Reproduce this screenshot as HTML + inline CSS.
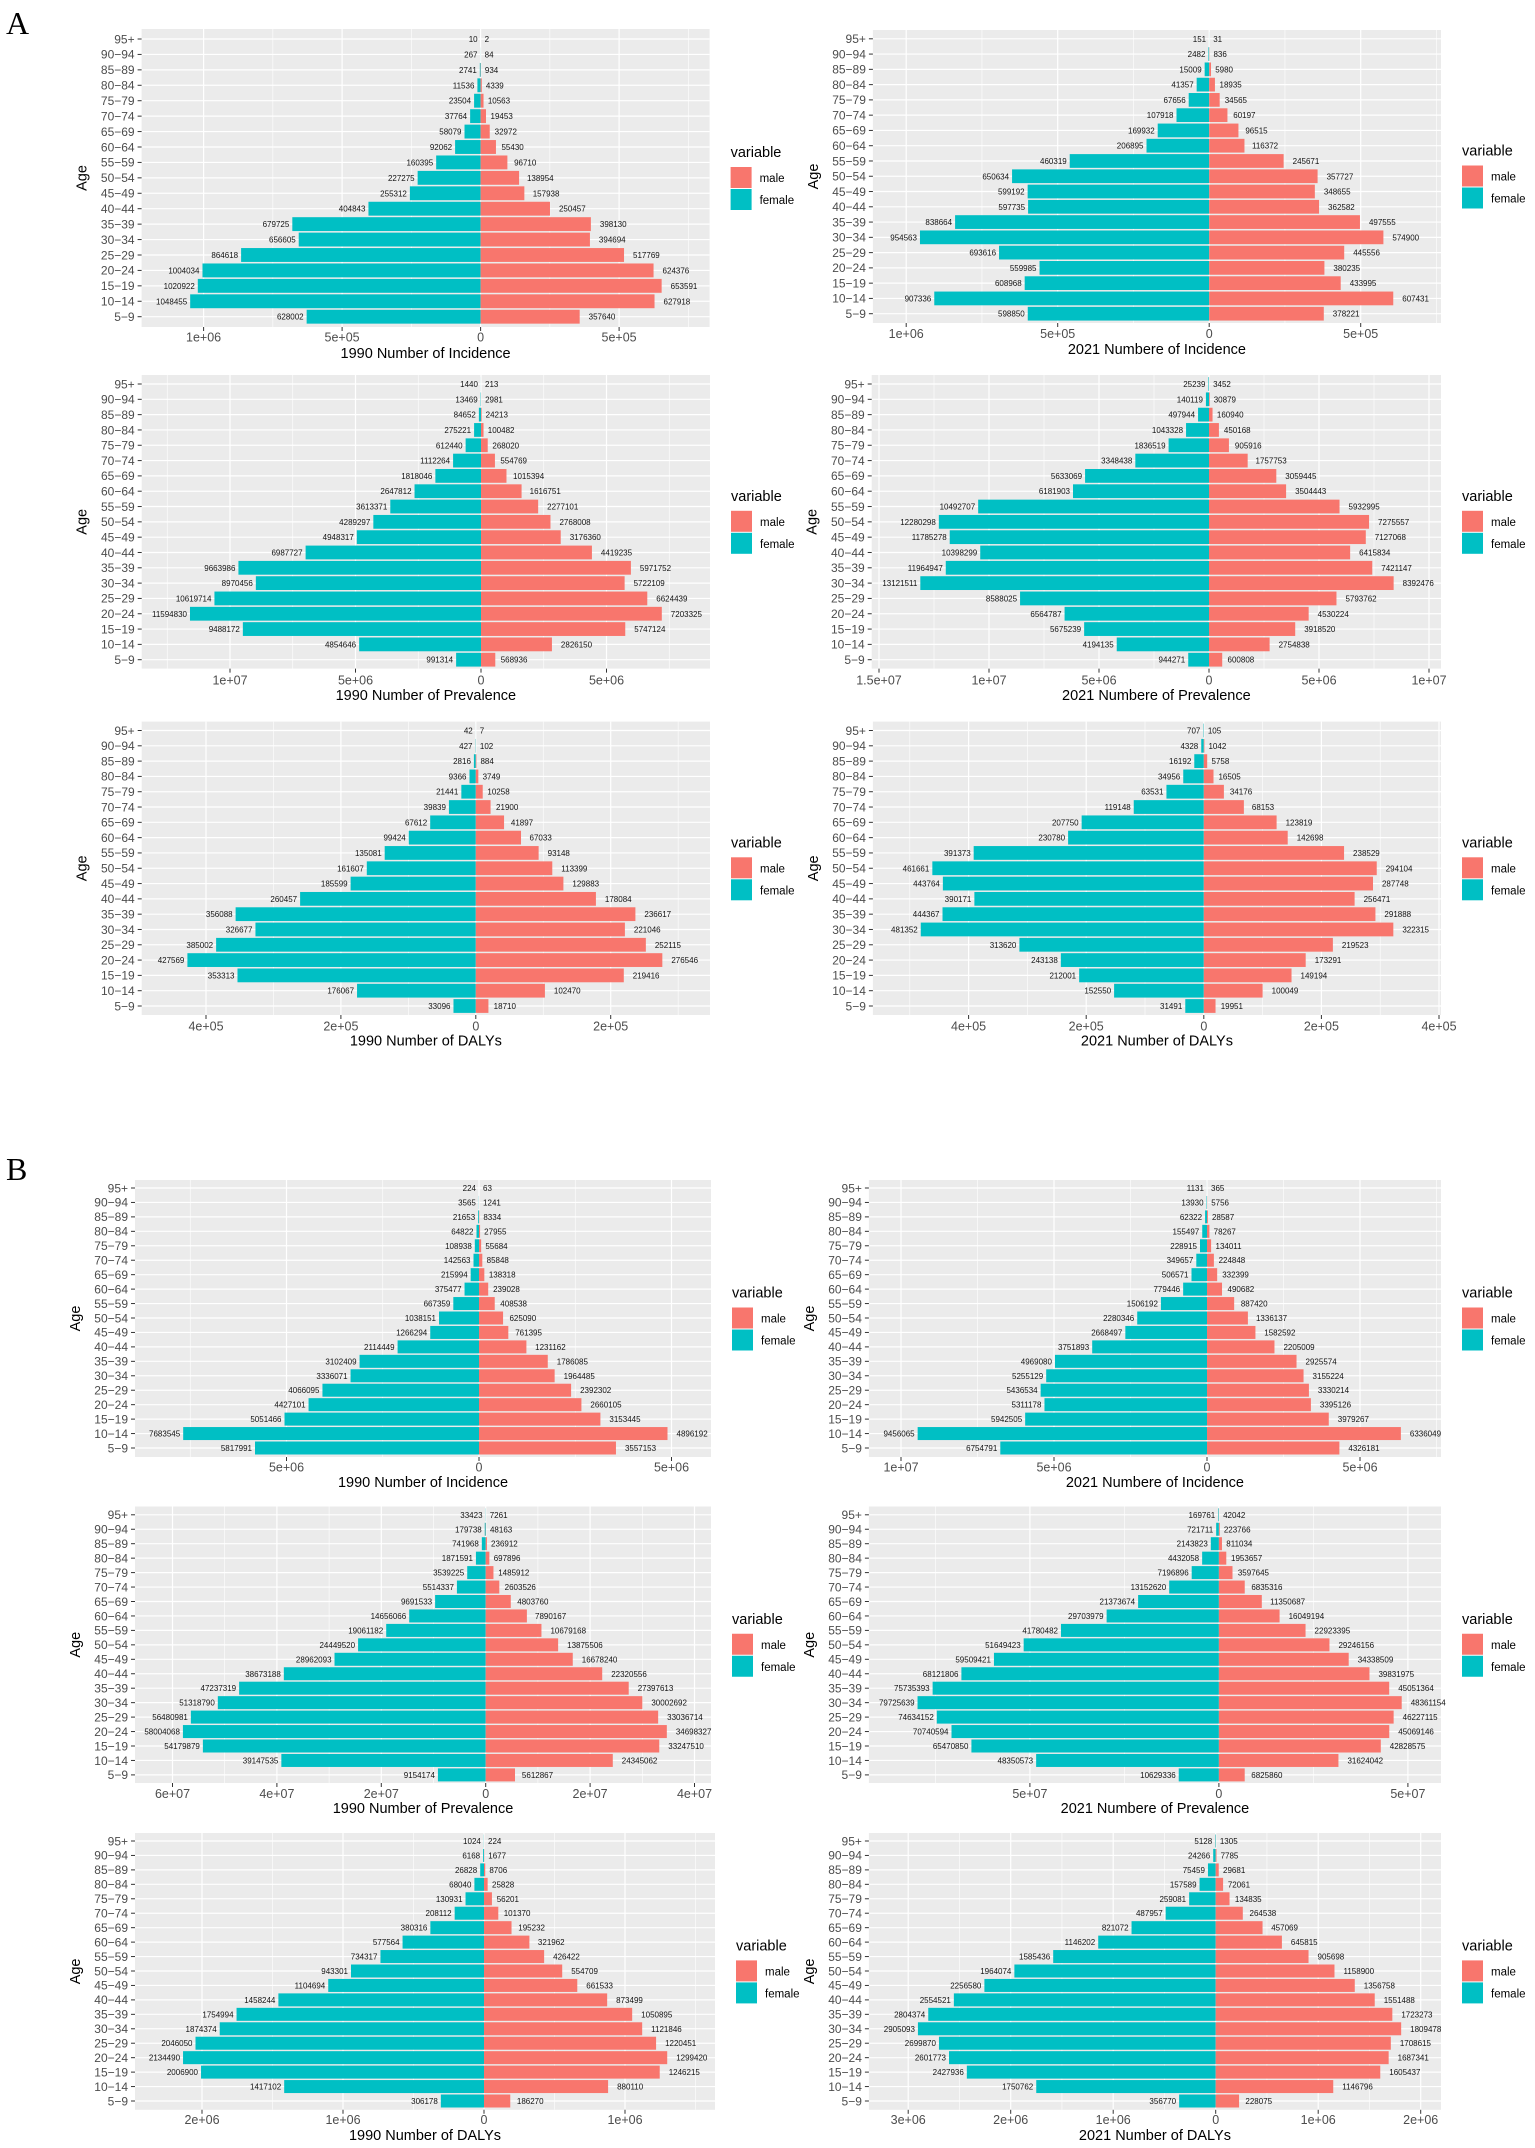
<!DOCTYPE html>
<html><head><meta charset="utf-8">
<style>
html,body{margin:0;padding:0;background:#fff;}
svg{display:block;font-family:"Liberation Sans",sans-serif;}
</style></head>
<body>
<svg id="s" xmlns="http://www.w3.org/2000/svg" width="1535" height="2148" viewBox="0 0 1535 2148">
<rect width="1535" height="2148" fill="#fff"/>
<text x="6" y="34" font-family="Liberation Serif, serif" font-size="32" fill="#000">A</text>
<text x="6" y="1180" font-family="Liberation Serif, serif" font-size="32" fill="#000">B</text>
</svg>
<script>
var ages=["95+","90\u221294","85\u221289","80\u221284","75\u221279","70\u221274","65\u221269","60\u221264","55\u221259","50\u221254","45\u221249","40\u221244","35\u221239","30\u221234","25\u221229","20\u221224","15\u221219","10\u221214","5\u22129"];
var P=[
{L:141.6,R:709.6,T:29,B:327,z:480.6,k:2.77e-4,r0:39,r18:316.7,ty:337,tt:353,st:5e5,title:"1990 Number of Incidence",
F:[10,267,2741,11536,23504,37764,58079,92062,160395,227275,255312,404843,679725,656605,864618,1004034,1020922,1048455,628002],
M:[2,84,934,4339,10563,19453,32972,55430,96710,138954,157938,250457,398130,394694,517769,624376,653591,627918,357640]},
{L:872.9,R:1441,T:30,B:323,z:1209.2,k:3.03e-4,r0:38.8,r18:313.7,ty:333.5,tt:349,st:5e5,title:"2021 Numbere of Incidence",
F:[151,2482,15009,41357,67656,107918,169932,206895,460319,650634,599192,597735,838664,954563,693616,559985,608968,907336,598850],
M:[31,836,5980,18935,34565,60197,96515,116372,245671,357727,348655,362582,497555,574900,445556,380235,433995,607431,378221]},
{L:141.7,R:710,T:375,B:668.6,z:481,k:2.51e-5,r0:384,r18:659.7,ty:680,tt:695,st:5e6,title:"1990 Number of Prevalence",
F:[1440,13469,84652,275221,612440,1112264,1818046,2647812,3613371,4289297,4948317,6987727,9663986,8970456,10619714,11594830,9488172,4854646,991314],
M:[213,2981,24213,100482,268020,554769,1015394,1616751,2277101,2768008,3176360,4419235,5971752,5722109,6624439,7203325,5747124,2826150,568936]},
{L:871.7,R:1441,T:375,B:668.6,z:1209,k:2.2e-5,r0:384,r18:659.7,ty:680,tt:695,st:5e6,title:"2021 Numbere of Prevalence",
F:[25239,140119,497944,1043328,1836519,3348438,5633069,6181903,10492707,12280298,11785278,10398299,11964947,13121511,8588025,6564787,5675239,4194135,944271],
M:[3452,30879,160940,450168,905916,1757753,3059445,3504443,5932995,7275557,7127068,6415834,7421147,8392476,5793762,4530224,3918520,2754838,600808]},
{L:141.7,R:710,T:721.6,B:1015,z:475.8,k:6.745e-4,r0:730.5,r18:1006,ty:1026,tt:1040.7,st:2e5,title:"1990 Number of DALYs",
F:[42,427,2816,9366,21441,39839,67612,99424,135081,161607,185599,260457,356088,326677,385002,427569,353313,176067,33096],
M:[7,102,884,3749,10258,21900,41897,67033,93148,113399,129883,178084,236617,221046,252115,276546,219416,102470,18710]},
{L:872.9,R:1441,T:721.6,B:1015,z:1203.8,k:5.88e-4,r0:730.5,r18:1006,ty:1026,tt:1040.7,st:2e5,title:"2021 Number of DALYs",
F:[707,4328,16192,34956,63531,119148,207750,230780,391373,461661,443764,390171,444367,481352,313620,243138,212001,152550,31491],
M:[105,1042,5758,16505,34176,68153,123819,142698,238529,294104,287748,256471,291888,322315,219523,173291,149194,100049,19951]},
{L:135,R:711,T:1180,B:1457,z:479,k:3.85e-5,r0:1188,r18:1448,ty:1467,tt:1482,st:5e6,title:"1990 Number of Incidence",
F:[224,3565,21653,64822,108938,142563,215994,375477,667359,1038151,1266294,2114449,3102409,3336071,4066095,4427101,5051466,7683545,5817991],
M:[63,1241,8334,27955,55684,85848,138318,239028,408538,625090,761395,1231162,1786085,1964485,2392302,2660105,3153445,4896192,3557153]},
{L:868.9,R:1441,T:1180,B:1457,z:1207,k:3.06e-5,r0:1188,r18:1448,ty:1467,tt:1482,st:5e6,title:"2021 Numbere of Incidence",
F:[1131,13930,62322,155497,228915,349657,506571,779446,1506192,2280346,2668497,3751893,4969080,5255129,5436534,5311178,5942505,9456065,6754791],
M:[365,5756,28587,78267,134011,224848,332399,490682,887420,1336137,1582592,2205009,2925574,3155224,3330214,3395126,3979267,6336049,4326181]},
{L:135,R:711,T:1506.5,B:1783,z:485.7,k:5.22e-6,r0:1514.8,r18:1774.9,ty:1793.7,tt:1807.9,st:2e7,title:"1990 Number of Prevalence",
F:[33423,179738,741968,1871591,3539225,5514337,9691533,14656066,19061182,24449520,28962093,38673188,47237319,51318790,56480981,58004068,54179879,39147535,9154174],
M:[7261,48163,236912,697896,1485912,2603526,4803760,7890167,10679168,13875506,16678240,22320556,27397613,30002692,33036714,34698327,33247510,24345062,5612867]},
{L:868.9,R:1441,T:1506.5,B:1783,z:1218.9,k:3.78e-6,r0:1514.8,r18:1774.9,ty:1793.7,tt:1807.9,st:5e7,title:"2021 Numbere of Prevalence",
F:[169761,721711,2143823,4432058,7196896,13152620,21373674,29703979,41780482,51649423,59509421,68121806,75735393,79725639,74634152,70740594,65470850,48350573,10629336],
M:[42042,223766,811034,1953657,3597645,6835316,11350687,16049194,22923395,29246156,34338509,39831975,45051364,48361154,46227115,45069146,42828575,31624042,6825860]},
{L:135,R:715,T:1833,B:2109.8,z:484,k:1.41e-4,r0:1841,r18:2101,ty:2119.7,tt:2135,st:1e6,title:"1990 Number of DALYs",
F:[1024,6168,26828,68040,130931,208112,380316,577564,734317,943301,1104694,1458244,1754994,1874374,2046050,2134490,2006900,1417102,306178],
M:[224,1677,8706,25828,56201,101370,195232,321962,426422,554709,661533,873499,1050895,1121846,1220451,1299420,1246215,880110,186270]},
{L:868.9,R:1441,T:1833,B:2109.8,z:1215.7,k:1.025e-4,r0:1841,r18:2101,ty:2119.7,tt:2135,st:1e6,title:"2021 Number of DALYs",
F:[5128,24266,75459,157589,259081,487957,821072,1146202,1585436,1964074,2256580,2554521,2804374,2905093,2699870,2601773,2427936,1750762,356770],
M:[1305,7785,29681,72061,134835,264538,457069,645815,905698,1158900,1356758,1551488,1723273,1809478,1708615,1687341,1605437,1146796,228075]}
];
var NS="http://www.w3.org/2000/svg",svg=document.getElementById("s");
function el(t,a,txt,par){var e=document.createElementNS(NS,t);for(var k in a)e.setAttribute(k,a[k]);if(txt!=null)e.textContent=txt;(par||svg).appendChild(e);return e;}
function fmt(v){v=Math.abs(v);if(v<1)return "0";var e=Math.floor(Math.log10(v)+1e-9);var m=Math.round(v/Math.pow(10,e)*100)/100;return m+"e+"+(e<10?"0"+e:e);}
P.forEach(function(p){
  var g=el("g",{});
  el("rect",{x:p.L,y:p.T,width:p.R-p.L,height:p.B-p.T,fill:"#EBEBEB"},null,g);
  var vmin=(p.L-p.z)/p.k,vmax=(p.R-p.z)/p.k,h=p.st/2;
  for(var i=Math.ceil(vmin/h);i*h<=vmax;i++){
    var x=p.z+i*h*p.k;
    if(i%2!==0){el("line",{x1:x,x2:x,y1:p.T,y2:p.B,stroke:"#fff","stroke-width":0.6},null,g);}
  }
  var sp=(p.r18-p.r0)/18;
  for(var r=0;r<19;r++){var y=p.r0+r*sp;el("line",{x1:p.L,x2:p.R,y1:y,y2:y,stroke:"#fff","stroke-width":1.2},null,g);}
  for(var i=Math.ceil(vmin/h);i*h<=vmax;i++){
    if(i%2!==0)continue;
    var x=p.z+i*h*p.k;
    el("line",{x1:x,x2:x,y1:p.T,y2:p.B,stroke:"#fff","stroke-width":1.2},null,g);
    el("line",{x1:x,x2:x,y1:p.B,y2:p.B+4,stroke:"#333","stroke-width":1},null,g);
    el("text",{x:x,y:p.ty+4.5,"text-anchor":"middle","font-size":12.5,fill:"#4D4D4D"},fmt(i*h),g);
  }
  var bh=sp*0.9;
  for(var r=0;r<19;r++){
    var y=p.r0+r*sp,f=p.F[r]*p.k,m=p.M[r]*p.k;
    el("rect",{x:p.z-f,y:y-bh/2,width:f,height:bh,fill:"#00BFC4"},null,g);
    el("rect",{x:p.z,y:y-bh/2,width:m,height:bh,fill:"#F8766D"},null,g);
    el("text",{x:p.z-f-3,y:y+3,"text-anchor":"end","font-size":8,fill:"#111"},String(p.F[r]),g);
    el("text",{x:p.z+m+4+Math.min(5,m/10),y:y+3,"font-size":8,fill:"#111"},String(p.M[r]),g);
    el("line",{x1:p.L-4,x2:p.L,y1:y,y2:y,stroke:"#333","stroke-width":1},null,g);
    el("text",{x:p.L-7,y:y+4.3,"text-anchor":"end","font-size":12,fill:"#4D4D4D"},ages[r],g);
  }
  el("text",{x:(p.L+p.R)/2,y:p.tt+5,"text-anchor":"middle","font-size":14.5,fill:"#000"},p.title,g);
  var my=(p.T+p.B)/2;
  el("text",{transform:"translate("+(p.L-55)+","+my+") rotate(-90)","text-anchor":"middle","font-size":14.5,fill:"#000"},"Age",g);
  var lx=p.R+21;
  el("text",{x:lx,y:my-21,"font-size":14.5,fill:"#000"},"variable",g);
  el("rect",{x:lx,y:my-11,width:21,height:21,fill:"#F8766D"},null,g);
  el("rect",{x:lx,y:my+11,width:21,height:21,fill:"#00BFC4"},null,g);
  el("text",{x:lx+29,y:my+4,"font-size":11.5,fill:"#000"},"male",g);
  el("text",{x:lx+29,y:my+26,"font-size":11.5,fill:"#000"},"female",g);
});
</script>
</body></html>
